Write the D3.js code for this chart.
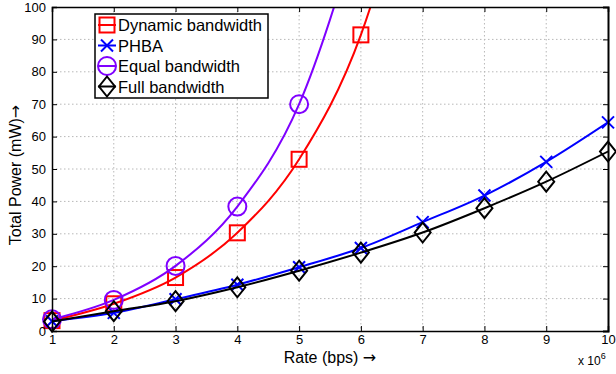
<!DOCTYPE html>
<html>
<head>
<meta charset="utf-8">
<script src="https://cdn.jsdelivr.net/npm/d3@7"></script>
<style>
  body { margin: 0; background: #fff; }
  svg { font-family: "Liberation Sans", Arial, sans-serif; }
  .grid line { stroke: #b8b8b8; stroke-dasharray: 1.5 2.5; }
  .axis text { font-size: 13px; fill: #000; }
  .arrow { font-family: "DejaVu Sans", sans-serif; }
</style>
</head>
<body>
<div id="chart"></div>
<script>
// --- data ---
const rates = [1, 2, 3, 4, 5, 6, 7, 8, 9, 10];
const dynamicBw = [3.2, 8.4, 16.5, 30.3, 53.0, 91.4, 158];
const phba = [3.0, 5.6, 9.8, 14.3, 19.7, 25.6, 33.6, 41.8, 52.2, 64.4];
const equalBw = [3.6, 9.6, 20.1, 38.4, 70.0, 127];
const fullBw = [2.9, 6.1, 9.2, 13.5, 18.6, 24.2, 30.4, 37.9, 46.1, 55.4];
const xTicks = [1, 2, 3, 4, 5, 6, 7, 8, 9, 10];
const yTicks = [0, 10, 20, 30, 40, 50, 60, 70, 80, 90, 100];

const series = [
  { name: "Dynamic bandwidth", values: dynamicBw, color: "#ff0000", marker: "square" },
  { name: "PHBA", values: phba, color: "#0000ff", marker: "x" },
  { name: "Equal bandwidth", values: equalBw, color: "#7f00ff", marker: "circle" },
  { name: "Full bandwidth", values: fullBw, color: "#000000", marker: "diamond" }
];

const W = 616, H = 374;
const margin = { top: 7, right: 8, bottom: 43, left: 52 };
const width = W - margin.left - margin.right;
const height = H - margin.top - margin.bottom;

const svg = d3.select("#chart").append("svg")
  .attr("width", W).attr("height", H);
const g = svg.append("g")
  .attr("transform", `translate(${margin.left},${margin.top})`);

const x = d3.scaleLinear().domain([1, 10]).range([0, width]);
const y = d3.scaleLinear().domain([0, 100]).range([height, 0]);

// grid
const grid = g.append("g").attr("class", "grid");
grid.selectAll(".gx").data(xTicks.slice(1, -1)).enter().append("line")
  .attr("x1", d => x(d)).attr("x2", d => x(d))
  .attr("y1", 0).attr("y2", height);
grid.selectAll(".gy").data(yTicks.slice(1, -1)).enter().append("line")
  .attr("x1", 0).attr("x2", width)
  .attr("y1", d => y(d)).attr("y2", d => y(d));

// clip for lines
svg.append("defs").append("clipPath").attr("id", "clip")
  .append("rect").attr("width", width).attr("height", height);

const line = d3.line()
  .x((d, i) => x(rates[i]))
  .y(d => y(d))
  .curve(d3.curveMonotoneX);

function drawMarker(sel, type, color) {
  if (type === "square") {
    sel.append("rect").attr("x", -7.5).attr("y", -7.5).attr("width", 15).attr("height", 15)
      .attr("fill", "none").attr("stroke", color).attr("stroke-width", 2);
  } else if (type === "circle") {
    sel.append("circle").attr("r", 9)
      .attr("fill", "none").attr("stroke", color).attr("stroke-width", 2);
  } else if (type === "diamond") {
    sel.append("path").attr("d", "M0,-10L8,0L0,10L-8,0Z")
      .attr("fill", "none").attr("stroke", color).attr("stroke-width", 2);
  } else if (type === "x") {
    sel.append("path").attr("d", "M-6,-6L6,6M-6,6L6,-6")
      .attr("fill", "none").attr("stroke", color).attr("stroke-width", 2);
  }
}

series.forEach(s => {
  g.append("path")
    .attr("clip-path", "url(#clip)")
    .attr("d", line(s.values))
    .attr("fill", "none")
    .attr("stroke", s.color)
    .attr("stroke-width", 2);
  s.values.forEach((v, i) => {
    if (v > 100) return;
    const m = g.append("g").attr("transform", `translate(${x(rates[i])},${y(v)})`);
    drawMarker(m, s.marker, s.color);
  });
});

// axes (inward ticks on all sides)
const tk = 5;
g.append("g").attr("class", "axis")
  .attr("transform", `translate(0,${height})`)
  .call(d3.axisBottom(x).tickValues(xTicks).tickSize(-tk).tickPadding(4).tickFormat(d3.format("d")))
  .call(a => a.select(".domain").attr("stroke", "#000").attr("stroke-width", 1.5));
g.append("g").attr("class", "axis")
  .call(d3.axisLeft(y).tickValues(yTicks).tickSize(-tk).tickPadding(6))
  .call(a => a.select(".domain").attr("stroke", "#000").attr("stroke-width", 1.5));
g.append("g")
  .call(d3.axisTop(x).tickValues(xTicks).tickSize(-tk).tickFormat(""))
  .call(a => a.select(".domain").attr("stroke", "#000").attr("stroke-width", 1.5));
g.append("g")
  .attr("transform", `translate(${width},0)`)
  .call(d3.axisRight(y).tickValues(yTicks).tickSize(-tk).tickFormat(""))
  .call(a => a.select(".domain").attr("stroke", "#000").attr("stroke-width", 2));

// axis labels
const xl = g.append("text")
  .attr("x", width / 2).attr("y", height + 32)
  .attr("text-anchor", "middle").style("font-size", "16px");
xl.append("tspan").text("Rate (bps) ");
xl.append("tspan").attr("class", "arrow").text("\u2192");
const yl = g.append("text")
  .attr("transform", "rotate(-90)")
  .attr("x", -168).attr("y", -31)
  .attr("text-anchor", "middle").style("font-size", "16px");
yl.append("tspan").text("Total Power (mW)");
yl.append("tspan").attr("class", "arrow").text("\u2192");
const exp = svg.append("text")
  .attr("x", W - 38).attr("y", H - 9)
  .style("font-size", "12px");
exp.append("tspan").text("x 10");
exp.append("tspan").attr("dy", -6).style("font-size", "9px").text("6");

// legend
const legend = svg.append("g").attr("transform", "translate(95,14)");
legend.append("rect")
  .attr("width", 173).attr("height", 84)
  .attr("fill", "#fff").attr("stroke", "#000").attr("stroke-width", 1.5);
series.forEach((s, i) => {
  const row = legend.append("g").attr("transform", `translate(0,${11 + i * 20.5})`);
  row.append("line").attr("x1", 3).attr("x2", 21)
    .attr("stroke", s.color).attr("stroke-width", 2);
  const m = row.append("g").attr("transform", "translate(12,0)");
  drawMarker(m, s.marker, s.color);
  row.append("text").attr("x", 23).attr("y", 6)
    .style("font-size", "16.5px").text(s.name);
});
</script>
</body>
</html>
